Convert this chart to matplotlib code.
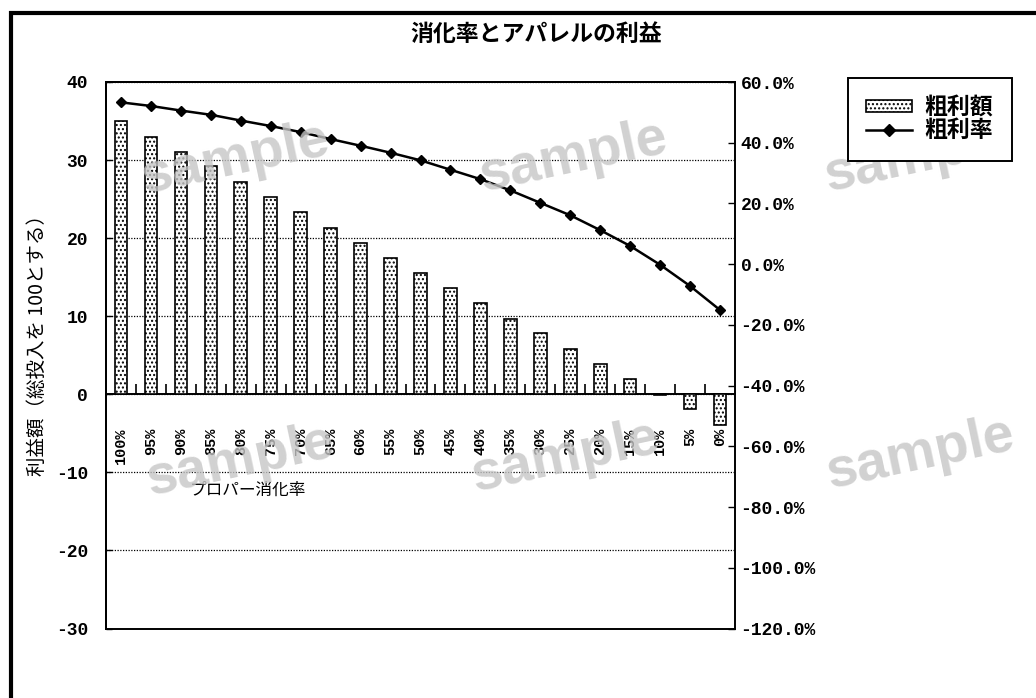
import matplotlib
matplotlib.use("Agg")
import matplotlib.pyplot as plt
from matplotlib.patches import Rectangle, Patch
from matplotlib.lines import Line2D
import numpy as np

plt.rcParams['axes.unicode_minus'] = False
plt.rcParams['hatch.linewidth'] = 1.0

# Sell-through rate at full price (category axis)
categories = ['100%', '95%', '90%', '85%', '80%', '75%', '70%', '65%', '60%', '55%',
              '50%', '45%', '40%', '35%', '30%', '25%', '20%', '15%', '10%', '5%', '0%']
# Gross profit amount (total input = 100)
gross_profit = [35.0, 33.0, 31.0, 29.2, 27.2, 25.3, 23.3, 21.3, 19.4, 17.5,
                15.5, 13.6, 11.7, 9.7, 7.8, 5.8, 3.9, 1.9, -0.1, -1.9, -3.9]
# Gross margin rate (%)
gross_margin = [53.3, 52.1, 50.6, 49.2, 47.3, 45.5, 43.5, 41.2, 39.0, 36.7,
                34.2, 31.1, 28.0, 24.3, 20.2, 16.1, 11.2, 6.0, -0.2, -7.2, -15.1]

left_ticks = [40, 30, 20, 10, 0, -10, -20, -30]
right_ticks = [60, 40, 20, 0, -20, -40, -60, -80, -100, -120]

title = '消化率とアパレルの利益'
ylabel = '利益額（総投入を 100とする）'
xlabel = 'プロパー消化率'
legend_labels = ['粗利額', '粗利率']

jp = ['Noto Sans CJK JP', 'DejaVu Sans']
num_font = 'Liberation Mono'

W, H = 1036, 698
fig = plt.figure(figsize=(W / 100, H / 100), dpi=100)
fig.patch.set_facecolor('white')

x0, x1 = 106, 735
y0, y1 = 82, 628.5
ax = fig.add_axes([x0 / W, 1 - y1 / H, (x1 - x0) / W, (y1 - y0) / H])
ax2 = ax.twinx()

x = np.arange(len(categories))
ax.bar(x, gross_profit, width=0.42, color='white', edgecolor='black',
       linewidth=1.2, hatch='....', zorder=3)
ax.set_xlim(-0.5, len(categories) - 0.5)
ax.set_ylim(-30, 40)
ax.set_yticks(left_ticks)
ax.set_yticklabels([f'{v}' for v in left_ticks], family=num_font,
                   fontweight='bold', fontsize=13)
ax.tick_params(axis='y', direction='in', length=4, width=1, pad=13)
ax.grid(axis='y', color='black', linestyle=(0, (1, 1.2)), linewidth=0.9, zorder=1)

# category axis sits on the zero line, ticks between the bars pointing up
ax.spines['bottom'].set_position(('data', 0))
ax.spines['bottom'].set_linewidth(1.4)
ax.set_xticks(x)
ax.set_xticklabels(categories, rotation=90, family=num_font,
                   fontweight='bold', fontsize=11, va='top')
ax.set_xticks(np.arange(0.5, len(categories) - 1), minor=True)
ax.tick_params(axis='x', which='major', length=0, pad=24)
ax.tick_params(axis='x', which='minor', direction='in', length=7, width=1.2)
for s in ['left', 'top']:
    ax.spines[s].set_linewidth(1.4)
ax.spines['right'].set_visible(False)

ax2.plot(x, gross_margin, color='black', linewidth=1.8, marker='D',
         markersize=5, zorder=4)
ax2.set_ylim(-120, 60)
ax2.set_yticks(right_ticks)
ax2.set_yticklabels([f'{v:.1f}%' for v in right_ticks], family=num_font,
                    fontweight='bold', fontsize=13)
ax2.tick_params(axis='y', direction='in', length=5, width=1, pad=4)
for s in ['right', 'bottom', 'top', 'left']:
    ax2.spines[s].set_linewidth(1.4)

fig.text(536 / W, 1 - 35 / H, title, ha='center', va='center',
         fontsize=16.5, fontweight='bold', family=jp)
fig.text(37 / W, 1 - 340 / H, ylabel, ha='center', va='center',
         rotation=90, fontsize=14, family=jp)
fig.text(190 / W, 1 - 490 / H, xlabel, ha='left', va='center',
         fontsize=12, family=jp)

# watermark
for cx, cy in [(235, 160), (573, 158), (918, 158), (240, 462), (565, 458), (920, 455)]:
    fig.text(cx / W, 1 - cy / H, 'sample', ha='center', va='center', rotation=12,
             fontsize=40, fontweight='bold', family='Liberation Sans',
             color='#c6c6c6', alpha=0.8, zorder=10)

handles = [Patch(facecolor='white', edgecolor='black', hatch='....', linewidth=1.2),
           Line2D([0], [0], color='black', linewidth=1.8, marker='D', markersize=6)]
leg = fig.legend(handles, legend_labels, loc='upper left',
                 bbox_to_anchor=(848 / W, 1 - 78 / H), bbox_transform=fig.transFigure,
                 borderaxespad=0, frameon=True, fancybox=False, edgecolor='black',
                 framealpha=1, prop={'family': jp, 'size': 16.5, 'weight': 'bold'},
                 handlelength=2.0, handleheight=0.4, labelspacing=0.0,
                 handletextpad=0.55, borderpad=0.8)
leg.get_frame().set_linewidth(1.4)
leg.set_zorder(20)

# outer frame
fig.add_artist(Rectangle((10.5 / W, -0.05), 1.2, (1 - 12.5 / H) + 0.05,
                         transform=fig.transFigure, fill=False,
                         edgecolor='black', linewidth=3, clip_on=False))

fig.savefig('out.png', dpi=100)
